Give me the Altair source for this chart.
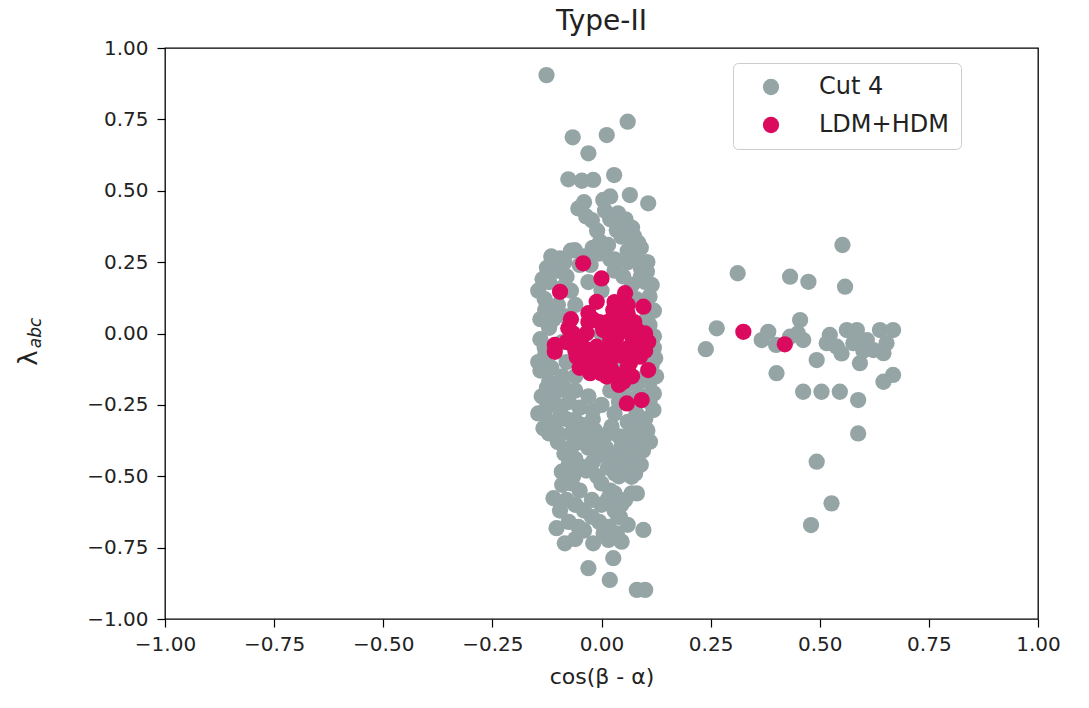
import altair as alt
import pandas as pd

# ---- data ----
cut4_x = [
    -0.126, -0.066, 0.012, 0.060, -0.030, -0.076, -0.045, -0.019, 0.029, 0.065, 0.107, -0.053,
    0.004, -0.022, 0.038, 0.035, 0.046, -0.003, 0.084, -0.061, -0.095, 0.104, -0.126,
    0.008, 0.020, -0.010, 0.015, 0.060, 0.030, -0.040, -0.020,
    -0.10, -0.12, -0.08, -0.05, 0.02, 0.06, 0.09, 0.10, 0.07, 0.03, -0.13, -0.14, -0.12, -0.14,
    -0.13, -0.145, -0.14, -0.12, -0.137, -0.13, -0.11, -0.10, -0.09, -0.08, -0.09, -0.08, -0.10,
    0.11, 0.12, 0.11, 0.12, 0.123, 0.12, 0.11, 0.12, 0.119, 0.10, 0.08, 0.06, 0.03, 0.00, -0.03,
    -0.06, -0.05, -0.08, -0.02, 0.02, 0.05, 0.08, -0.07, -0.06, 0.05, 0.00, -0.03, 0.09, -0.129,
    -0.133, -0.12, 0.10, 0.00, 0.05, -0.05, 0.03,
    -0.04, 0.04, 0.111, -0.099, -0.068, -0.022, 0.023, 0.069, -0.061, 0.092, 0.046, 0.008, 0.077,
    -0.045, -0.091, 0.031, 0.077, 0.069, -0.068, 0.000, 0.081, 0.069, -0.110, -0.080, -0.022,
    0.054, -0.022, 0.042, 0.038, -0.053, 0.016, -0.103, 0.096, -0.084, -0.019, 0.016, 0.046,
    0.027, -0.030, 0.019, 0.081, 0.100,
    -0.02, 0.05, 0.02, -0.05, 0.00, -0.04, 0.01, -0.06, 0.03,
    -0.115, -0.125, -0.135, -0.145, -0.11, -0.13, -0.115, -0.125, -0.145, -0.12, -0.095, -0.10,
    -0.085, -0.075, -0.09, -0.095, -0.075, -0.06, -0.065, -0.035, -0.01, 0.015, 0.04, 0.055,
    0.06, 0.035, -0.01, -0.03, 0.075, 0.095, 0.105, 0.085, 0.055, 0.015, -0.015, -0.045, -0.07,
    -0.105, 0.11, 0.095, 0.125, 0.115, 0.105, 0.115, 0.105, 0.08, 0.09, 0.07, -0.085, -0.07,
    0.045, 0.07, 0.075, 0.055, -0.035, -0.04, 0.02, -0.005, -0.025, 0.015, 0.03, 0.045, -0.005,
    -0.04, 0.005, 0.06, -0.06, 0.035, -0.01, 0.02, -0.05, 0.09, -0.02, 0.04, 0.075, -0.075,
    -0.085, -0.06, 0.09, 0.08, -0.09, -0.11, -0.12,
    0.552, 0.312, 0.432, 0.474, 0.558, 0.264, 0.239, 0.367, 0.382, 0.455, 0.462, 0.432, 0.401,
    0.493, 0.523, 0.539, 0.562, 0.585, 0.577, 0.592, 0.608, 0.638, 0.668, 0.653, 0.646, 0.646,
    0.668, 0.462, 0.504, 0.546, 0.588, 0.588, 0.493, 0.527, 0.480, 0.516, 0.623, 0.40, 0.45,
    0.55, 0.60,
]
cut4_y = [
    0.905, 0.687, 0.695, 0.742, 0.631, 0.540, 0.535, 0.538, 0.555, 0.485, 0.456, 0.438,
    0.468, 0.397, 0.421, 0.362, 0.339, 0.321, 0.318, 0.292, 0.263, 0.216, 0.088,
    0.43, 0.40, 0.36, 0.31, 0.29, 0.26, 0.27, 0.30,
    0.22, 0.18, 0.20, 0.24, 0.26, 0.25, 0.23, 0.18, 0.17, 0.22, 0.12, 0.05, 0.02, -0.02,
    -0.08, -0.10, -0.13, -0.17, -0.22, -0.27, -0.24, -0.20, -0.15, -0.10, -0.03, 0.06, 0.10,
    0.13, 0.08, 0.03, -0.01, -0.087, -0.05, -0.17, -0.21, -0.268, -0.30, -0.28, -0.31, -0.28,
    -0.25, -0.22, -0.20, -0.26, -0.30, -0.30, -0.20, -0.20, -0.18, 0.15, 0.10, 0.20, 0.15, 0.18,
    0.30, 0.082, -0.332, -0.31, -0.33, 0.00, -0.10, -0.05, 0.05,
    -0.35, -0.36, -0.379, -0.350, -0.396, -0.361, -0.326, -0.326, -0.303, -0.373, -0.396,
    -0.420, -0.443, -0.467, -0.484, -0.490, -0.490, -0.502, -0.525, -0.525, -0.560, -0.560,
    -0.577, -0.583, -0.583, -0.583, -0.642, -0.642, -0.642, -0.677, -0.677, -0.682, -0.688,
    -0.735, -0.735, -0.723, -0.729, -0.787, -0.822, -0.863, -0.898, -0.898,
    -0.45, -0.45, -0.55, -0.55, -0.60, -0.62, -0.40, -0.44, -0.62,
    0.27, 0.23, 0.19, 0.15, 0.07, -0.05, -0.12, -0.19, -0.28, -0.35, -0.27, -0.38,
    -0.42, -0.46, -0.53, -0.62, -0.66, -0.60, -0.50, -0.48, -0.50, -0.47, -0.50, -0.48,
    -0.42, -0.43, -0.43, -0.40, -0.38, -0.41, -0.34, -0.35, -0.36, -0.35, -0.34, -0.32, -0.35,
    -0.31, -0.24, -0.22, -0.15, -0.11, 0.06, 0.17, 0.25, 0.27, 0.20, 0.31, 0.25, 0.29,
    0.36, 0.37, 0.34, 0.40, 0.41, 0.46, 0.48, 0.28, 0.24, -0.58, -0.56, -0.60, -0.66,
    -0.69, -0.70, -0.67, -0.72, -0.70, -0.38, -0.44, -0.38, -0.46, -0.27, -0.24, -0.23, -0.24,
    -0.19, -0.15, -0.16, 0.12, 0.16, 0.05, -0.06,
    0.310, 0.211, 0.199, 0.181, 0.164, 0.018, -0.055, -0.023, 0.006, 0.047, -0.023, -0.011,
    -0.139, -0.093, -0.005, -0.046, 0.012, 0.012, -0.034, -0.104, -0.023, 0.012, 0.012, -0.034,
    -0.069, -0.169, -0.145, -0.204, -0.204, -0.204, -0.233, -0.350, -0.449, -0.595, -0.671,
    -0.034, -0.058, -0.04, 0.0, -0.07, -0.06,
]
ldm_x = [
    0.325, 0.420, -0.042, 0.000, -0.095, 0.054, -0.011, 0.096, 0.027, -0.030, -0.076, -0.107,
    -0.107, 0.107, 0.107, 0.058, 0.092, 0.050, -0.026, -0.057, 0.012, 0.065, 0.081, -0.034,
    0.004, 0.035, -0.011, 0.027, 0.065, -0.049, 0.004, 0.042, -0.042, 0.088, 0.015, 0.03,
    0.07, -0.02, 0.06, -0.06, 0.09, 0.04,
    0.02, 0.05, -0.01, 0.01, 0.05, 0.08, -0.03, 0.03, -0.005, 0.06, 0.02, 0.04, 0.00, -0.04,
    0.075, 0.07, -0.065, 0.10, 0.10, 0.03, 0.06,
    -0.06, -0.08, -0.05, -0.02, -0.03, -0.07,
]
ldm_y = [
    0.006, -0.038, 0.246, 0.193, 0.146, 0.141, 0.111, 0.094, 0.082, 0.071, 0.018, -0.064,
    -0.04, -0.029, -0.128, -0.245, -0.233, -0.169, -0.139, -0.081, -0.151, -0.046, 0.012,
    0.001, 0.012, -0.011, -0.046, -0.081, -0.104, -0.034, -0.104, 0.047, -0.104, -0.081,
    0.041, -0.14, -0.15, 0.05, 0.07, -0.02, -0.03, -0.05,
    -0.02, 0.02, -0.08, -0.06, -0.08, -0.06, -0.07, 0.01, 0.04, -0.12, -0.12, -0.18, -0.14,
    -0.05, 0.04, -0.01, 0.00, 0.00, -0.06, 0.11, 0.10,
    -0.06, -0.03, -0.12, -0.12, 0.04, 0.05,
]
series_names = ["Cut 4", "LDM+HDM"]
series_colors = ["#95a5a6", "#dc0a5f"]
tick_values = [-1.0, -0.75, -0.5, -0.25, 0.0, 0.25, 0.5, 0.75, 1.0]
title_text = "Type-II"
x_title = "cos(β - α)"
y_title_main = ["λ"]
y_title_sub = ["abc"]

df = pd.concat([
    pd.DataFrame({"x": cut4_x, "y": cut4_y, "series": series_names[0]}),
    pd.DataFrame({"x": ldm_x, "y": ldm_y, "series": series_names[1]}),
], ignore_index=True)

minus_expr = "replace(format(datum.value, '.2f'), '-', '\u2212')"
FONT = "DejaVu Sans"

points = alt.Chart(df).mark_circle(size=265, opacity=1).encode(
    x=alt.X("x:Q", scale=alt.Scale(domain=[-1, 1], nice=False, zero=False),
            axis=alt.Axis(values=tick_values, labelExpr=minus_expr, title=x_title,
                          grid=False, domain=False, tickSize=8, tickColor="#000",
                          tickWidth=1.2, labelFontSize=20, labelColor="#222",
                          labelPadding=7, labelFont=FONT, titleFont=FONT,
                          titleFontSize=22, titleFontWeight="normal", titleColor="#222",
                          titlePadding=12, labelFlush=False)),
    y=alt.Y("y:Q", scale=alt.Scale(domain=[-1, 1], nice=False, zero=False),
            axis=alt.Axis(values=tick_values, labelExpr=minus_expr, title=None,
                          grid=False, domain=False, tickSize=8, tickColor="#000",
                          tickWidth=1.2, labelFontSize=20, labelColor="#222",
                          labelPadding=9, labelFont=FONT, labelFlush=False)),
    color=alt.Color("series:N",
                    scale=alt.Scale(domain=series_names, range=series_colors),
                    legend=alt.Legend(title=None, orient="none", legendX=568, legendY=15,
                                      direction="vertical", symbolType="circle",
                                      symbolSize=265, symbolOpacity=1, symbolStrokeWidth=0,
                                      labelFontSize=24, labelFont=FONT, labelColor="#222",
                                      labelOffset=36, padding=12, symbolOffset=14,
                                      rowPadding=14, strokeColor="#cccccc",
                                      fillColor="#ffffff", cornerRadius=5)),
)

lam = alt.Chart(pd.DataFrame({"t": y_title_main})).mark_text(
    angle=270, fontSize=26, font=FONT, color="#222"
).encode(text="t:N", x=alt.value(-136), y=alt.value(310))

sub = alt.Chart(pd.DataFrame({"t": y_title_sub})).mark_text(
    angle=270, fontSize=17, font=FONT, fontStyle="italic", color="#222"
).encode(text="t:N", x=alt.value(-129), y=alt.value(285))

chart = alt.layer(points, lam, sub).properties(
    width=873, height=571,
    title=alt.Title(title_text, fontSize=28, font=FONT, fontWeight="normal",
                    color="#222", offset=2, anchor="middle"),
    autosize=alt.AutoSizeParams(type="none"),
    padding={"left": 165, "top": 48, "right": 51, "bottom": 89},
).configure(background="white").configure_view(stroke="#000", strokeWidth=1.3)

chart.save("out.html", embed_options={"renderer": "svg", "actions": False})
